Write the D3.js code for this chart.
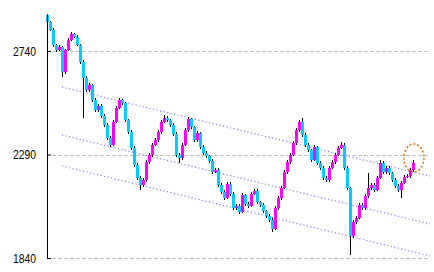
<!DOCTYPE html>
<html>
<head>
<meta charset="utf-8">
<script src="https://cdn.jsdelivr.net/npm/d3@7"></script>
<style>
  body { margin: 0; background: #fff; }
  svg { display: block; }
</style>
</head>
<body>
<div id="chart"></div>
<script>
// daily candles, oldest first
const opens = [
  2895, 2866, 2831, 2766, 2744, 2757, 2649, 2744, 2788, 2814,
  2801, 2766, 2692, 2623, 2570, 2592, 2527, 2483, 2501, 2457,
  2418, 2362, 2331, 2431, 2492, 2527, 2514, 2440, 2388, 2318,
  2244, 2188, 2157, 2179, 2257, 2288, 2331, 2353, 2388, 2431,
  2449, 2440, 2418, 2379, 2288, 2275, 2331, 2396, 2444, 2409,
  2353, 2383, 2322, 2296, 2283, 2262, 2214, 2222, 2157, 2127,
  2101, 2162, 2118, 2057, 2066, 2040, 2114, 2075, 2066, 2118,
  2131, 2083, 2070, 2044, 2022, 2005, 1966, 2057, 2101, 2144,
  2214, 2257, 2288, 2340, 2396, 2431, 2375, 2331, 2309, 2266,
  2322, 2253, 2231, 2188, 2179, 2231, 2257, 2288, 2318, 2331,
  2231, 2144, 1936, 1996, 2014, 2070, 2057, 2109, 2144, 2157,
  2136, 2188, 2253, 2214, 2231, 2209, 2179, 2153, 2136, 2166,
  2192, 2196, 2222
];
const highs = [
  2900, 2872, 2838, 2772, 2765, 2762, 2750, 2795, 2823, 2820,
  2808, 2772, 2700, 2630, 2600, 2598, 2535, 2510, 2508, 2465,
  2425, 2370, 2438, 2500, 2536, 2533, 2520, 2446, 2395, 2325,
  2252, 2195, 2188, 2265, 2296, 2338, 2362, 2396, 2440, 2462,
  2456, 2446, 2425, 2386, 2295, 2338, 2404, 2453, 2450, 2416,
  2392, 2390, 2330, 2304, 2290, 2270, 2232, 2230, 2165, 2134,
  2170, 2170, 2125, 2075, 2073, 2122, 2120, 2083, 2126, 2140,
  2138, 2090, 2077, 2050, 2030, 2012, 2064, 2110, 2152, 2222,
  2265, 2296, 2348, 2404, 2440, 2449, 2382, 2338, 2316, 2330,
  2328, 2260, 2238, 2196, 2240, 2265, 2296, 2326, 2344, 2338,
  2238, 2150, 2004, 2022, 2078, 2078, 2118, 2209, 2166, 2164,
  2196, 2266, 2260, 2240, 2238, 2216, 2186, 2160, 2174, 2200,
  2205, 2230, 2266
];
const lows = [
  2858, 2825, 2758, 2735, 2738, 2627, 2640, 2738, 2782, 2795,
  2760, 2685, 2449, 2560, 2562, 2518, 2475, 2476, 2450, 2410,
  2352, 2322, 2325, 2425, 2486, 2506, 2432, 2380, 2310, 2236,
  2178, 2136, 2150, 2172, 2250, 2280, 2325, 2346, 2380, 2425,
  2432, 2410, 2370, 2280, 2253, 2268, 2325, 2390, 2402, 2345,
  2346, 2315, 2288, 2275, 2254, 2205, 2208, 2150, 2118, 2092,
  2095, 2110, 2048, 2050, 2032, 2034, 2068, 2058, 2060, 2112,
  2076, 2062, 2036, 2014, 1996, 1953, 1960, 2050, 2094, 2138,
  2206, 2250, 2282, 2333, 2390, 2368, 2324, 2300, 2258, 2260,
  2245, 2222, 2180, 2170, 2172, 2225, 2250, 2282, 2312, 2224,
  2136, 1853, 1928, 1988, 2008, 2050, 2050, 2102, 2137, 2128,
  2130, 2182, 2206, 2207, 2200, 2170, 2145, 2128, 2101, 2160,
  2186, 2190, 2216
];
const closes = [
  2866, 2831, 2766, 2744, 2757, 2649, 2744, 2788, 2814, 2801,
  2766, 2692, 2623, 2570, 2592, 2527, 2483, 2501, 2457, 2418,
  2362, 2331, 2431, 2492, 2527, 2514, 2440, 2388, 2318, 2244,
  2188, 2157, 2179, 2257, 2288, 2331, 2353, 2388, 2431, 2449,
  2440, 2418, 2379, 2288, 2275, 2331, 2396, 2444, 2409, 2353,
  2383, 2322, 2296, 2283, 2262, 2214, 2222, 2157, 2127, 2101,
  2162, 2118, 2057, 2066, 2040, 2114, 2075, 2066, 2118, 2131,
  2083, 2070, 2044, 2022, 2005, 1966, 2057, 2101, 2144, 2214,
  2257, 2288, 2340, 2396, 2431, 2375, 2331, 2309, 2266, 2322,
  2253, 2231, 2188, 2179, 2231, 2257, 2288, 2318, 2331, 2231,
  2144, 1936, 1996, 2014, 2070, 2057, 2109, 2144, 2157, 2136,
  2188, 2253, 2214, 2231, 2209, 2179, 2153, 2136, 2166, 2192,
  2196, 2222, 2253
];

const tickValues = [1840, 2290, 2740];

// trend channel: [start index, start value, end index, end value]
const trendLines = [
  [5, 2583, 127.7, 2196],
  [5, 2375, 127.7, 1988],
  [5, 2240, 127.7, 1849]
];

// circled spot near the last candles
const markIndex = 122.3;
const markValue = 2275;

const width = 434;
const height = 272;

const svg = d3.select('#chart')
  .append('svg')
  .attr('width', width)
  .attr('height', height);

const x = d3.scaleLinear()
  .domain([0, closes.length - 1])
  .range([47, 413]);

const y = d3.scaleLinear()
  .domain([1840, 2900])
  .range([258, 14.2]);

// grid
svg.append('g')
  .selectAll('line')
  .data(tickValues)
  .enter()
  .append('line')
  .attr('x1', 52)
  .attr('x2', 430)
  .attr('y1', d => Math.round(y(d)) + 0.5)
  .attr('y2', d => Math.round(y(d)) + 0.5)
  .style('stroke', '#c0c0c0')
  .style('stroke-dasharray', '4,2');

// trend lines
svg.append('g')
  .selectAll('line')
  .data(trendLines)
  .enter()
  .append('line')
  .attr('x1', d => x(d[0]))
  .attr('y1', d => y(d[1]))
  .attr('x2', d => x(d[2]))
  .attr('y2', d => y(d[3]))
  .style('stroke', '#8080ff')
  .style('stroke-width', 1.2)
  .style('stroke-dasharray', '1.2,2.4');

// candles
const candles = svg.append('g')
  .selectAll('g')
  .data(closes.map((c, i) => ({o: opens[i], h: highs[i], l: lows[i], c: c, i: i})))
  .enter()
  .append('g');

candles.append('line')
  .attr('x1', d => Math.round(x(d.i)) + 0.5)
  .attr('x2', d => Math.round(x(d.i)) + 0.5)
  .attr('y1', d => y(d.h))
  .attr('y2', d => y(d.l))
  .style('stroke', '#000')
  .style('shape-rendering', 'crispEdges');

candles.append('rect')
  .attr('x', d => Math.round(x(d.i)) - 1)
  .attr('width', 3)
  .attr('y', d => y(Math.max(d.o, d.c)))
  .attr('height', d => Math.max(1, Math.abs(y(d.o) - y(d.c))))
  .style('fill', d => d.c >= d.o ? '#ff00ff' : '#00ccff')
  .style('shape-rendering', 'crispEdges');

// axis
const axis = d3.axisLeft(y)
  .tickValues(tickValues)
  .tickSize(-4)
  .tickSizeOuter(0)
  .tickPadding(11)
  .tickFormat(d3.format('d'));

const axisG = svg.append('g')
  .attr('transform', 'translate(47,0)')
  .call(axis);

axisG.select('.domain').style('stroke', '#000');
axisG.selectAll('.tick line').style('stroke', '#000');
axisG.selectAll('.tick text')
  .style('font-family', '"Liberation Sans", Arial, sans-serif')
  .style('font-size', '13px')
  .style('fill', '#000')
  .attr('textLength', 23)
  .attr('lengthAdjust', 'spacingAndGlyphs');

// orange mark
svg.append('ellipse')
  .attr('cx', x(markIndex))
  .attr('cy', y(markValue))
  .attr('rx', 10)
  .attr('ry', 14)
  .style('fill', 'none')
  .style('stroke', '#ff6600')
  .style('stroke-width', 1.5)
  .style('stroke-dasharray', '2,2');
</script>
</body>
</html>
